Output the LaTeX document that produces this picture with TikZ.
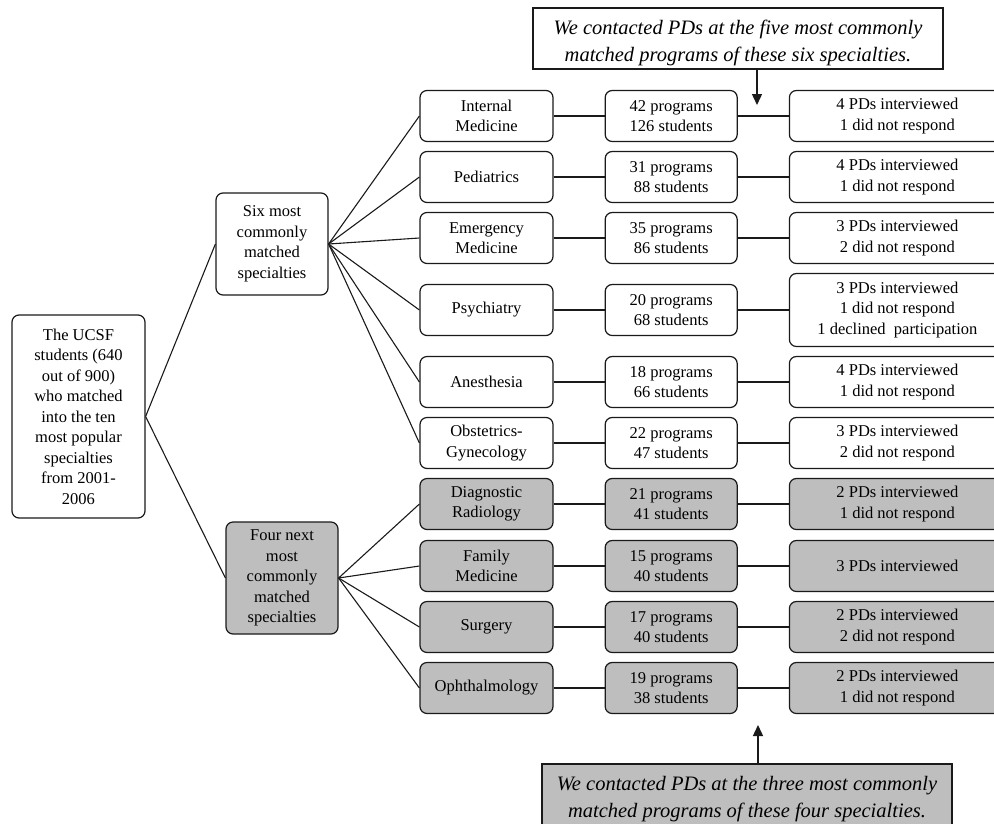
\documentclass[tikz,border=0pt]{standalone}
\usepackage{fontspec}
\setmainfont{Liberation Serif}
\usepackage{xcolor}
\definecolor{boxline}{HTML}{1A1A1A}
\definecolor{boxgray}{HTML}{BEBEBE}
\usepackage{tikz}
\usetikzlibrary{arrows.meta,positioning}
\tikzset{
  spec/.style  = {rectangle, rounded corners=7pt, draw=boxline, line width=1.2pt,
                  fill=white, minimum height=51pt, minimum width=133pt, inner sep=2pt,
                  align=center, font=\fontsize{16.5}{20.5}\selectfont},
  prog/.style  = {spec, minimum width=132pt},
  res/.style   = {spec, minimum width=216pt},
  grp/.style   = {spec, minimum width=112pt},
  graybox/.style = {fill=boxgray},
  note/.style  = {rectangle, draw=boxline, line width=1.2pt, fill=white,
                  minimum width=410pt, align=center,
                  font=\fontsize{20.5}{27}\selectfont\itshape},
  link/.style  = {draw=boxline, line width=1.1pt},
  arr/.style   = {-{Triangle[length=11pt,width=10pt]}, line width=1.4pt, draw=boxline}
}
\begin{document}
\begin{tikzpicture}[x=1pt,y=-1pt,node distance=51pt]
  \useasboundingbox (0,0) rectangle (994,823);
  \node[grp, minimum width=133pt, minimum height=203pt] (ucsf) at (78.5,416.5)
    {The UCSF\\students (640\\out of 900)\\who matched\\into the ten\\most popular\\specialties\\from 2001-\\2006};
  \node[grp, minimum height=102pt] (six) at (272,244) {Six most\\commonly\\matched\\specialties};
  \node[grp, graybox, minimum height=112pt] (four) at (282,578) {Four next\\most\\commonly\\matched\\specialties};

  % six most commonly matched
  \node[spec] (im)  at (486.5,116) {Internal\\Medicine};
  \node[spec] (ped) at (486.5,177) {Pediatrics};
  \node[spec] (em)  at (486.5,238) {Emergency\\Medicine};
  \node[spec] (psy) at (486.5,310) {Psychiatry};
  \node[spec] (an)  at (486.5,382) {Anesthesia};
  \node[spec] (ob)  at (486.5,443) {Obstetrics-\\Gynecology};
  % four next
  \node[spec, graybox] (dr) at (486.5,504) {Diagnostic\\Radiology};
  \node[spec, graybox] (fm) at (486.5,566) {Family\\Medicine};
  \node[spec, graybox] (su) at (486.5,627) {Surgery};
  \node[spec, graybox] (op) at (486.5,688) {Ophthalmology};

  \node[prog, right=of im]  (im-p)  {42 programs\\126 students};
  \node[prog, right=of ped] (ped-p) {31 programs\\88 students};
  \node[prog, right=of em]  (em-p)  {35 programs\\86 students};
  \node[prog, right=of psy] (psy-p) {20 programs\\68 students};
  \node[prog, right=of an]  (an-p)  {18 programs\\66 students};
  \node[prog, right=of ob]  (ob-p)  {22 programs\\47 students};
  \node[prog, graybox, right=of dr] (dr-p) {21 programs\\41 students};
  \node[prog, graybox, right=of fm] (fm-p) {15 programs\\40 students};
  \node[prog, graybox, right=of su] (su-p) {17 programs\\40 students};
  \node[prog, graybox, right=of op] (op-p) {19 programs\\38 students};

  \node[res, right=of im-p]  (im-r)  {4 PDs interviewed\\1 did not respond};
  \node[res, right=of ped-p] (ped-r) {4 PDs interviewed\\1 did not respond};
  \node[res, right=of em-p]  (em-r)  {3 PDs interviewed\\2 did not respond};
  \node[res, right=of psy-p, minimum height=73pt] (psy-r) {3 PDs interviewed\\1 did not respond\\1 declined\ \ participation};
  \node[res, right=of an-p]  (an-r)  {4 PDs interviewed\\1 did not respond};
  \node[res, right=of ob-p]  (ob-r)  {3 PDs interviewed\\2 did not respond};
  \node[res, graybox, right=of dr-p] (dr-r) {2 PDs interviewed\\1 did not respond};
  \node[res, graybox, right=of fm-p] (fm-r) {3 PDs interviewed};
  \node[res, graybox, right=of su-p] (su-r) {2 PDs interviewed\\2 did not respond};
  \node[res, graybox, right=of op-p] (op-r) {2 PDs interviewed\\1 did not respond};

  \node[note, minimum height=61pt, text height=50pt] (topnote) at (738,38.5)
    {We contacted PDs at the five most commonly\\matched programs of these six specialties.};
  \node[note, graybox, minimum height=70pt] (botnote) at (747,799)
    {We contacted PDs at the three most commonly\\matched programs of these four specialties.};

  \draw[link] (ucsf.east) -- (six.west);
  \draw[link] (ucsf.east) -- (four.west);
  \foreach \s in {im,ped,em,psy,an,ob}
    \draw[link] (six.east) -- (\s.west);
  \foreach \s in {dr,fm,su,op}
    \draw[link] (four.east) -- (\s.west);
  \foreach \s in {im,ped,em,psy,an,ob,dr,fm,su,op}{
    \draw[link] (\s) -- (\s-p);
    \draw[link] (\s-p) -- (\s-r);
  }

  \coordinate (toptip) at (757,105);
  \coordinate (bottip) at (758,725);
  \draw[arr] (topnote.south -| toptip) -- (toptip);
  \draw[arr] (botnote.north -| bottip) -- (bottip);
\end{tikzpicture}
\end{document}
